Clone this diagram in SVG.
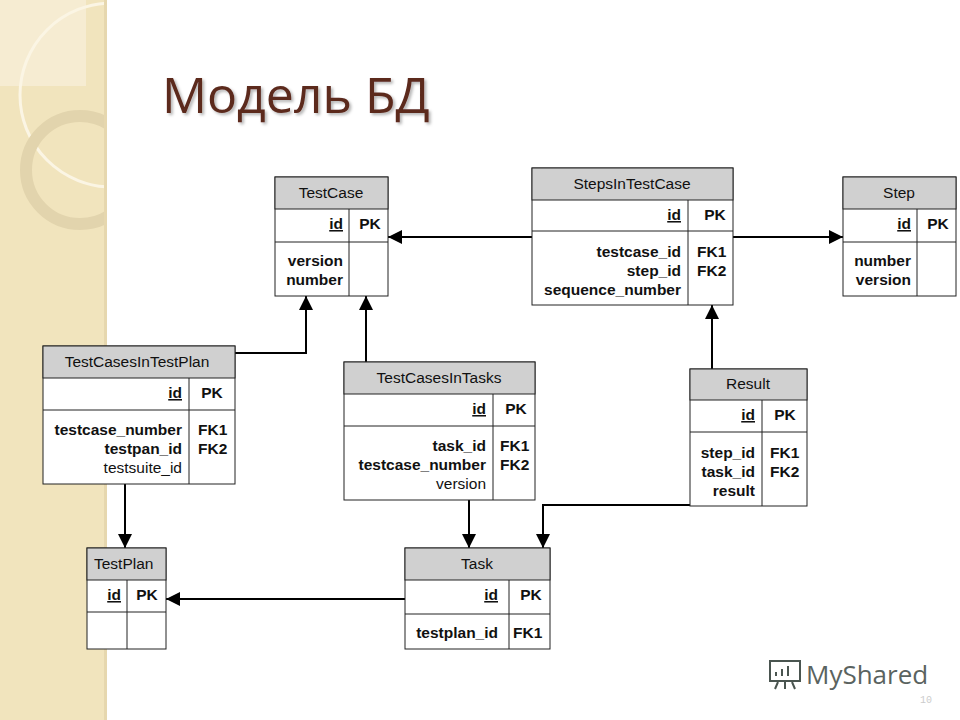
<svg xmlns="http://www.w3.org/2000/svg" width="960" height="720" viewBox="0 0 960 720">
<defs>
<style>
.t{font-family:"Liberation Sans",Arial,sans-serif;font-size:15.5px;fill:#111}
.b{font-weight:bold}
.h{fill:#d0d0d0;stroke:#222;stroke-width:1}
.r{fill:#fff;stroke:#222;stroke-width:1}
.l{stroke:#222;stroke-width:1}
.c{fill:none;stroke:#000;stroke-width:2}
</style>
<marker id="m" viewBox="0 0 14 14" refX="14" refY="7" markerWidth="14" markerHeight="14" orient="auto" markerUnits="userSpaceOnUse"><path d="M0,0L14,7L0,14z" fill="#000"/></marker>
<filter id="sh"><feDropShadow dx="2" dy="2" stdDeviation="1.5" flood-color="#000" flood-opacity="0.3"/></filter>
<clipPath id="cp"><rect x="0" y="0" width="106" height="720"/></clipPath>
</defs>
<rect width="960" height="720" fill="#fff"/>
<g id="bg">
<rect x="0" y="0" width="106" height="720" fill="#f1e4bd"/>
<g clip-path="url(#cp)">
<rect x="0" y="0" width="86" height="86" fill="#f6ecd2"/>
<circle cx="112" cy="95" r="92" fill="none" stroke="#fbf5e4" stroke-width="3"/>
<circle cx="80" cy="170" r="54" fill="none" stroke="#e2d4ad" stroke-width="12"/>
</g>
<rect x="104" y="0" width="3" height="720" fill="#e6d7ae"/>
</g>
<text x="162" y="113" font-family="'Open Sans',Lato,sans-serif" font-size="50" fill="#5c2a1f" filter="url(#sh)">Модель БД</text>
<g id="connectors">
<path class="c" d="M532,237H388" marker-end="url(#m)"/>
<path class="c" d="M733,237H843" marker-end="url(#m)"/>
<path class="c" d="M235,353H306V296" marker-end="url(#m)"/>
<path class="c" d="M366,362V296" marker-end="url(#m)"/>
<path class="c" d="M712,369V305" marker-end="url(#m)"/>
<path class="c" d="M125,484V548" marker-end="url(#m)"/>
<path class="c" d="M469,500V548" marker-end="url(#m)"/>
<path class="c" d="M690,505H543V548" marker-end="url(#m)"/>
<path class="c" d="M405,599H166" marker-end="url(#m)"/>
</g>
<g id="TestCase">
<rect class="r" x="275" y="177" width="113" height="119"/><rect class="h" x="275" y="177" width="113" height="32"/>
<path class="l" d="M275,242H388M349,209V296"/>
<text class="t" x="331" y="198" text-anchor="middle">TestCase</text>
<text class="t b" x="343" y="229" text-anchor="end" text-decoration="underline">id</text><text class="t b" x="370" y="229" text-anchor="middle">PK</text>
<text class="t b" x="343" y="266" text-anchor="end">version</text><text class="t b" x="343" y="285" text-anchor="end">number</text>
</g>
<g id="StepsInTestCase">
<rect class="r" x="532" y="168" width="201" height="137"/><rect class="h" x="532" y="168" width="201" height="32"/>
<path class="l" d="M532,231H733M688,200V305"/>
<text class="t" x="632" y="189" text-anchor="middle">StepsInTestCase</text>
<text class="t b" x="681" y="220" text-anchor="end" text-decoration="underline">id</text><text class="t b" x="715" y="220" text-anchor="middle">PK</text>
<text class="t b" x="681" y="257" text-anchor="end">testcase_id</text><text class="t b" x="681" y="276" text-anchor="end">step_id</text><text class="t b" x="681" y="295" text-anchor="end">sequence_number</text>
<text class="t b" x="697" y="257">FK1</text><text class="t b" x="697" y="276">FK2</text>
</g>
<g id="Step">
<rect class="r" x="843" y="177" width="113" height="119"/><rect class="h" x="843" y="177" width="113" height="32"/>
<path class="l" d="M843,242H956M917,209V296"/>
<text class="t" x="899" y="198" text-anchor="middle">Step</text>
<text class="t b" x="911" y="229" text-anchor="end" text-decoration="underline">id</text><text class="t b" x="938" y="229" text-anchor="middle">PK</text>
<text class="t b" x="911" y="266" text-anchor="end">number</text><text class="t b" x="911" y="285" text-anchor="end">version</text>
</g>
<g id="TestCasesInTestPlan">
<rect class="r" x="43" y="346" width="192" height="138"/><rect class="h" x="43" y="346" width="192" height="32"/>
<path class="l" d="M43,410H235M189,378V484"/>
<text class="t" x="137" y="367" text-anchor="middle">TestCasesInTestPlan</text>
<text class="t b" x="182" y="398" text-anchor="end" text-decoration="underline">id</text><text class="t b" x="212" y="398" text-anchor="middle">PK</text>
<text class="t b" x="182" y="435" text-anchor="end">testcase_number</text><text class="t b" x="182" y="454" text-anchor="end">testpan_id</text><text class="t" x="182" y="473" text-anchor="end">testsuite_id</text>
<text class="t b" x="198" y="435">FK1</text><text class="t b" x="198" y="454">FK2</text>
</g>
<g id="TestCasesInTasks">
<rect class="r" x="344" y="362" width="191" height="138"/><rect class="h" x="344" y="362" width="191" height="32"/>
<path class="l" d="M344,426H535M493,394V500"/>
<text class="t" x="439" y="383" text-anchor="middle">TestCasesInTasks</text>
<text class="t b" x="486" y="414" text-anchor="end" text-decoration="underline">id</text><text class="t b" x="516" y="414" text-anchor="middle">PK</text>
<text class="t b" x="486" y="451" text-anchor="end">task_id</text><text class="t b" x="486" y="470" text-anchor="end">testcase_number</text><text class="t" x="486" y="489" text-anchor="end">version</text>
<text class="t b" x="500" y="451">FK1</text><text class="t b" x="500" y="470">FK2</text>
</g>
<g id="Result">
<rect class="r" x="690" y="369" width="117" height="137"/><rect class="h" x="690" y="369" width="117" height="31"/>
<path class="l" d="M690,432H807M762,400V506"/>
<text class="t" x="748" y="389" text-anchor="middle">Result</text>
<text class="t b" x="755" y="420" text-anchor="end" text-decoration="underline">id</text><text class="t b" x="785" y="420" text-anchor="middle">PK</text>
<text class="t b" x="755" y="458" text-anchor="end">step_id</text><text class="t b" x="755" y="477" text-anchor="end">task_id</text><text class="t b" x="755" y="496" text-anchor="end">result</text>
<text class="t b" x="770" y="458">FK1</text><text class="t b" x="770" y="477">FK2</text>
</g>
<g id="TestPlan">
<rect class="r" x="87" y="548" width="79" height="101"/><rect class="h" x="87" y="548" width="79" height="32"/>
<path class="l" d="M87,612H166M127,580V649"/>
<text class="t" x="94" y="569">TestPlan</text>
<text class="t b" x="121" y="600" text-anchor="end" text-decoration="underline">id</text><text class="t b" x="147" y="600" text-anchor="middle">PK</text>
</g>
<g id="Task">
<rect class="r" x="405" y="548" width="145" height="101"/><rect class="h" x="405" y="548" width="145" height="32"/>
<path class="l" d="M405,614H550M509,580V649"/>
<text class="t" x="477" y="569" text-anchor="middle">Task</text>
<text class="t b" x="498" y="600" text-anchor="end" text-decoration="underline">id</text><text class="t b" x="531" y="600" text-anchor="middle">PK</text>
<text class="t b" x="498" y="638" text-anchor="end">testplan_id</text><text class="t b" x="513" y="638">FK1</text>
</g>
<text x="806" y="684" font-family="'Open Sans',sans-serif" font-size="26" fill="#5a6360">MyShared</text>
<g fill="none" stroke="#4a5550" stroke-width="2"><rect x="770" y="661" width="30" height="20"/><path d="M776,676v-4M782,676v-7M788,676v-10M778,682l-3,7M792,682l3,7M785,682v7"/></g>
<text x="920" y="703" font-family="'Liberation Mono',monospace" font-size="10" fill="#ccc">10</text>
</svg>
